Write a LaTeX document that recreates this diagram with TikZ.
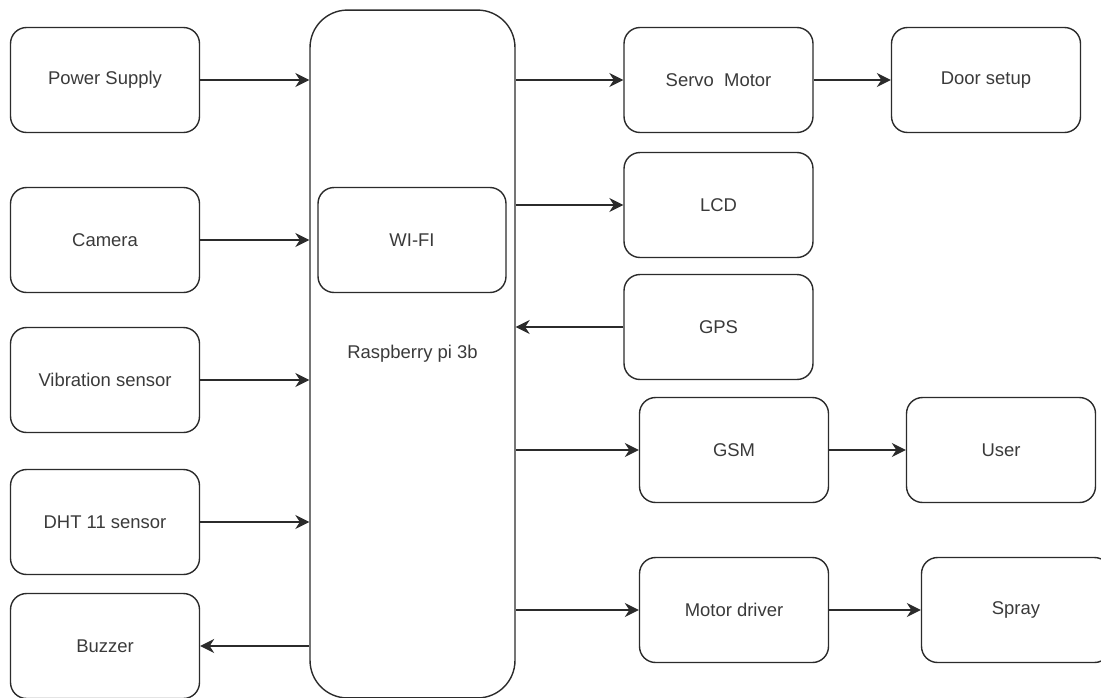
\documentclass[tikz,border=0pt]{standalone}
\usepackage{fontspec}
\setmainfont{Liberation Sans}
\usetikzlibrary{arrows.meta, positioning}
\definecolor{edge}{HTML}{2B2B2B}
\definecolor{txt}{HTML}{3A3A3A}
\tikzset{
    box/.style={
        draw=edge,
        line width=0.8pt,
        rounded corners=0.32cm,
        minimum width=3.78cm,
        minimum height=2.1cm,
        align=center,
        text=txt
    },
    bigbox/.style={
        draw=edge,
        line width=0.8pt,
        rounded corners=0.75cm,
        minimum width=4.1cm,
        minimum height=13.76cm,
        align=center,
        text=txt
    },
    line/.style={-{Stealth[length=2.8mm, width=2.8mm, inset=0.9mm]}, line width=0.85pt, draw=edge},
    every node/.style={font=\fontsize{10.5}{12}\selectfont}
}

\begin{document}
\begin{tikzpicture}[x=0.02cm, y=-0.02cm]
\useasboundingbox (0,0) rectangle (1101,697);
\clip (0,0) rectangle (1101,697);

% controller
\node[bigbox] (rpi) at (412.5,354) {Raspberry pi 3b};
\node[box, minimum width=3.76cm] (wifi) at (412,240) {WI-FI};

% inputs
\node[box] (power) at (105,80) {Power Supply};
\node[box] (cam) at (105,240) {Camera};
\node[box] (vib) at (105,380) {Vibration sensor};
\node[box] (dht) at (105,522) {DHT 11 sensor};
\node[box] (buzz) at (105,646) {Buzzer};

% outputs
\node[box] (servo) at (718.5,80) {Servo~~Motor};
\node[box] (door) at (986,80) {Door setup};
\node[box] (lcd) at (718.5,205) {LCD};
\node[box] (gps) at (718.5,327) {GPS};
\node[box] (gsm) at (734,450) {GSM};
\node[box] (user) at (1001,450) {User};
\node[box] (mdrv) at (734,610) {Motor driver};
\node[box] (spray) at (1016,610) {Spray};

\draw[line] (power.east) -- (power.east -| rpi.west);
\draw[line] (cam.east) -- (cam.east -| rpi.west);
\draw[line] (vib.east) -- (vib.east -| rpi.west);
\draw[line] (dht.east) -- (dht.east -| rpi.west);
\draw[line] (buzz.east -| rpi.west) -- (buzz.east);

\draw[line] (servo.west -| rpi.east) -- (servo.west);
\draw[line] (lcd.west -| rpi.east) -- (lcd.west);
\draw[line] (gps.west) -- (gps.west -| rpi.east);
\draw[line] (gsm.west -| rpi.east) -- (gsm.west);
\draw[line] (mdrv.west -| rpi.east) -- (mdrv.west);

\draw[line] (servo) -- (door);
\draw[line] (gsm) -- (user);
\draw[line] (mdrv) -- (spray);
\end{tikzpicture}
\end{document}
